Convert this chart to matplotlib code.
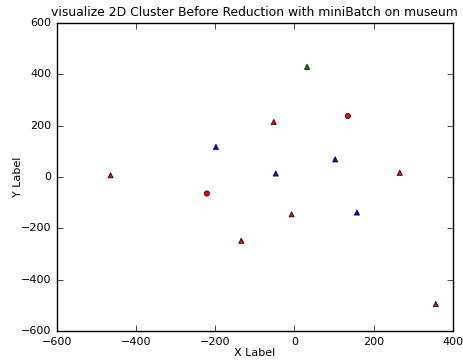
import matplotlib
matplotlib.use("Agg")
import matplotlib.pyplot as plt

# cluster points
tri_x = [-464, -198, -134, -52, -47, -7, 32, 103, 158, 266, 357]
tri_y = [7, 118, -248, 215, 14, -145, 430, 69, -138, 17, -495]
tri_c = ['r', 'b', 'r', 'r', 'b', 'r', 'g', 'b', 'b', 'r', 'r']
cen_x = [-221, 135]
cen_y = [-64, 238]
cen_c = ['r', 'r']

plt.style.use('classic')
plt.rcParams['font.family'] = ['DejaVu Sans']
fig = plt.figure(figsize=(4.63, 3.62), dpi=100)
ax = fig.add_axes([0.1225, 0.0856, 0.8555, 0.8504])

ax.scatter(tri_x, tri_y, c=tri_c, marker='^', s=14, edgecolors='k', linewidths=0.5)
ax.scatter(cen_x, cen_y, c=cen_c, marker='o', s=14, edgecolors='k', linewidths=0.5)

ax.set_xlim(-600, 400)
ax.set_ylim(-600, 600)
ax.set_xticks([-600, -400, -200, 0, 200, 400])
ax.set_yticks([-600, -400, -200, 0, 200, 400, 600])
ax.tick_params(labelsize=8, length=4)
ax.set_title('visualize 2D Cluster Before Reduction with miniBatch on museum', fontsize=8.95)
ax.set_xlabel('X Label', fontsize=8, labelpad=1)
ax.set_ylabel('Y Label', fontsize=8, labelpad=-2)

fig.savefig('out.png', dpi=100)
